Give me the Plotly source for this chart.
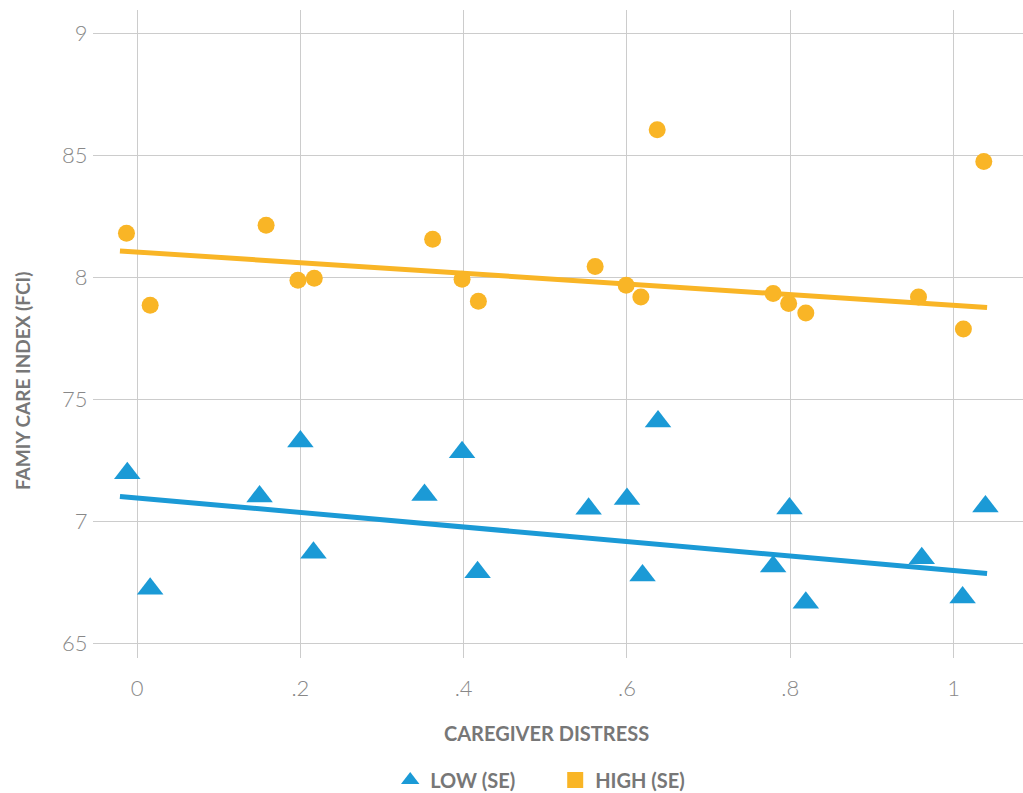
import plotly.graph_objects as go

# Data
high_x = [-0.013, 0.016, 0.158, 0.197, 0.217, 0.362, 0.398, 0.418, 0.561, 0.599, 0.617, 0.637, 0.779, 0.798, 0.819, 0.957, 1.012, 1.037]
high_y = [81.80, 78.85, 82.13, 79.88, 79.96, 81.56, 79.92, 79.02, 80.44, 79.67, 79.19, 86.04, 79.33, 78.92, 78.54, 79.19, 77.88, 84.74]

low_x = [-0.012, 0.016, 0.150, 0.200, 0.216, 0.352, 0.398, 0.417, 0.553, 0.600, 0.619, 0.638, 0.779, 0.799, 0.819, 0.961, 1.011, 1.039]
low_y = [71.97, 67.24, 71.02, 73.27, 68.71, 71.08, 72.83, 67.91, 70.51, 70.91, 67.78, 74.09, 68.15, 70.53, 66.66, 68.49, 66.88, 70.61]

fit_x = [-0.021, 1.041]
high_fit_y = [81.08, 78.76]
low_fit_y = [71.02, 67.86]

y_tickvals = [65, 70, 75, 80, 85, 90]
y_ticktext = ["65", "7", "75", "8", "85", "9"]
x_tickvals = [0, 0.2, 0.4, 0.6, 0.8, 1.0]
x_ticktext = ["0", ".2", ".4", ".6", ".8", "1"]

x_title = "CAREGIVER DISTRESS"
y_title = "FAMIY CARE INDEX (FCI)"

BLUE = "#1b9ad6"
YELLOW = "#f9b526"
GRID = "#cccccc"
TICK = "#888888"
TITLE = "#777777"

fig = go.Figure()

fig.add_trace(go.Scatter(x=fit_x, y=high_fit_y, mode="lines",
                         line=dict(color=YELLOW, width=5), showlegend=False, hoverinfo="skip"))
fig.add_trace(go.Scatter(x=fit_x, y=low_fit_y, mode="lines",
                         line=dict(color=BLUE, width=5), showlegend=False, hoverinfo="skip"))

fig.add_trace(go.Scatter(x=high_x, y=high_y, mode="markers", name="HIGH (SE)",
                         marker=dict(color=YELLOW, size=17, symbol="circle"), showlegend=False))
fig.add_trace(go.Scatter(x=low_x, y=low_y, mode="markers", name="LOW (SE)",
                         marker=dict(color=BLUE, size=23, symbol="triangle-up"), showlegend=True))
# legend entry for HIGH shown as a square
fig.add_trace(go.Scatter(x=[None], y=[None], mode="markers", name="HIGH (SE)",
                         marker=dict(color=YELLOW, size=20, symbol="square"), showlegend=True))

fig.update_layout(
    width=1023, height=793,
    margin=dict(l=93, r=0, t=10, b=135),
    plot_bgcolor="white", paper_bgcolor="white",
    font=dict(family="Lato", color=TICK),
    legend=dict(orientation="h", xref="paper", x=0.497, xanchor="center",
                yref="container", y=0.0164, yanchor="middle",
                font=dict(family="Lato", size=20, color=TITLE, weight="bold"),
                itemsizing="trace", traceorder="normal", itemwidth=30,
                entrywidth=120, entrywidthmode="pixels"),
    annotations=[
        dict(text=x_title, xref="paper", yref="paper", x=0.488, y=-0.1157,
             xanchor="center", yanchor="middle", showarrow=False,
             font=dict(family="Lato", size=20, color=TITLE, weight="bold")),
        dict(text=y_title, xref="paper", yref="paper", x=-0.0758, y=0.4267,
             xanchor="center", yanchor="middle", showarrow=False, textangle=-90,
             font=dict(family="Lato", size=19, color=TITLE, weight="bold")),
    ],
)

fig.update_xaxes(
    range=[-0.054, 1.085],
    tickvals=x_tickvals, ticktext=x_ticktext,
    showgrid=True, gridcolor=GRID, gridwidth=1, zeroline=False, showline=False,
    ticks="outside", ticklen=11, tickcolor="rgba(0,0,0,0)",
    tickfont=dict(family="Lato", size=22, color=TICK, weight=300),
)
fig.update_yaxes(
    range=[64.4, 90.95],
    tickvals=y_tickvals, ticktext=y_ticktext,
    showgrid=True, gridcolor=GRID, gridwidth=1, zeroline=False, showline=False,
    ticks="outside", ticklen=0, tickcolor="rgba(0,0,0,0)",
    tickfont=dict(family="Lato", size=22, color=TICK, weight=300),
)

fig.write_html("out.html", config={"displayModeBar": False},
               post_script="document.body.style.margin='0';")
